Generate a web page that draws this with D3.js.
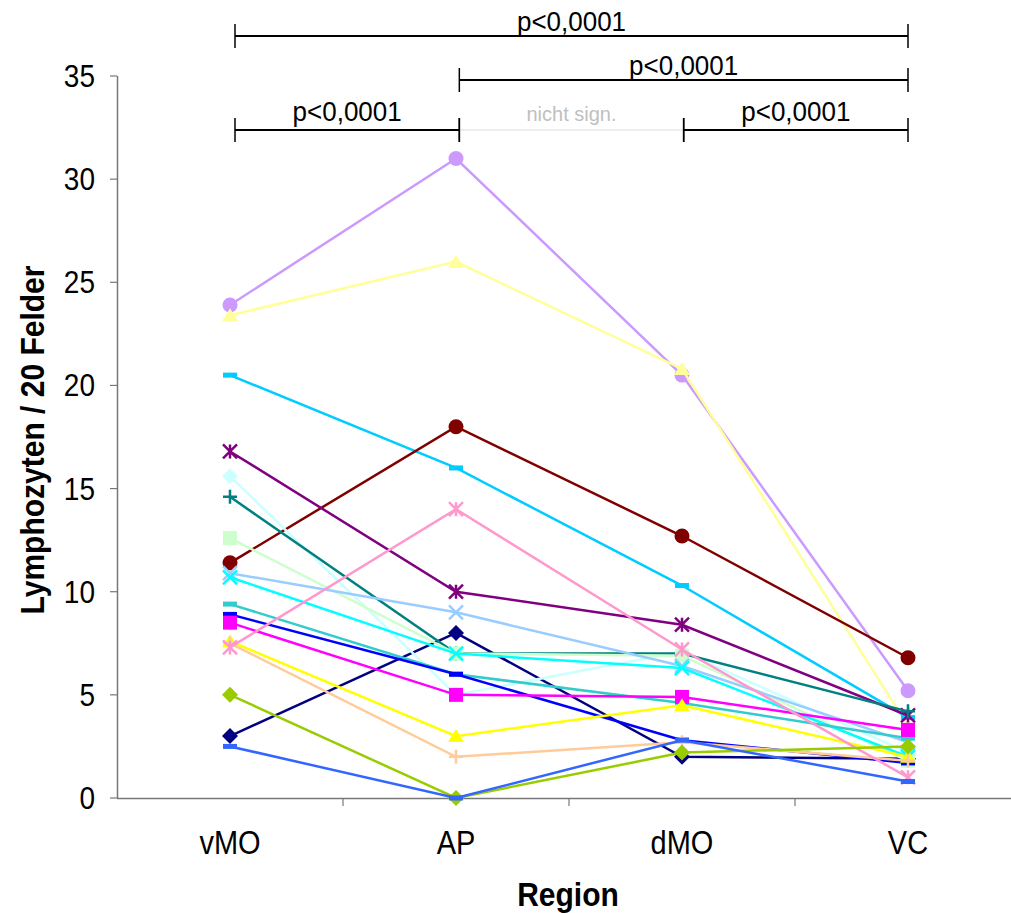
<!DOCTYPE html>
<html><head><meta charset="utf-8">
<script src="https://cdn.jsdelivr.net/npm/d3@7"></script>
<style>body{margin:0;background:#fff}svg{display:block;font-family:"Liberation Sans",Arial,sans-serif}</style>
</head><body>
<svg id="c" width="1011" height="913"></svg>
<script>
const categories = ["vMO","AP","dMO","VC"];
const yTicks = [0,5,10,15,20,25,30,35];
const seriesColors = ["#000080","#CC99FF","#FFFF99","#00CCFF","#800000","#800080","#CCFFFF","#008080","#CCFFCC","#99CCFF","#00FFFF","#33CCCC","#0000FF","#FF00FF","#FFFF00","#FFCC99","#FF99CC","#99CC00","#3366FF"];
const seriesShapes = ["diamond","circle","triangle","dash","circle","star","diamond","plus","square","x","x","dash","dash","square","triangle","plus","star","diamond","dash"];
const seriesValues = [
  [3.0, 8, 2.0, 1.9],
  [23.9, 31, 20.5, 5.2],
  [23.4, 26, 20.8, 3.5],
  [20.5, 16, 10.3, 3.9],
  [11.4, 18, 12.7, 6.8],
  [16.8, 10, 8.4, 4.0],
  [15.6, 5, 7.1, 2.2],
  [14.6, 7, 7.0, 4.2],
  [12.6, 7, 6.9, 1.8],
  [10.9, 9, 6.4, 2.7],
  [10.7, 7, 6.3, 2.0],
  [9.4, 6, 4.6, 2.9],
  [8.9, 6, 2.8, 1.7],
  [8.5, 5, 4.9, 3.3],
  [7.6, 3, 4.5, 2.0],
  [7.5, 2, 2.7, 1.8],
  [7.3, 14, 7.2, 1.0],
  [5.0, 0, 2.2, 2.5],
  [2.5, 0, 2.8, 0.8]
];
const brackets = [
  {from:"vMO", to:"VC", row:0, label:"p<0,0001", sig:true},
  {from:"AP", to:"VC", row:1, label:"p<0,0001", sig:true},
  {from:"vMO", to:"AP", row:2, label:"p<0,0001", sig:true},
  {from:"AP", to:"dMO", row:2, label:"nicht sign.", sig:false},
  {from:"dMO", to:"VC", row:2, label:"p<0,0001", sig:true}
];

const svg = d3.select("#c");
const x = d3.scaleBand().domain(categories).range([117, 1021]).padding(0);
const cx = c => x(c) + x.bandwidth()/2;
const bx = d3.scalePoint().domain(categories).range([235, 908]);
const y = d3.scaleLinear().domain([0,35]).range([798,76]);
const SY = 1.12;
function stext(px, py, str, size, anchor, opts={}){
  const t = svg.append("text").attr("transform",`translate(${px},${py}) ${opts.rot?"rotate(-90)":""} scale(1,${opts.sy||SY})`)
    .attr("text-anchor",anchor).attr("font-size",size).attr("fill",opts.fill||"#000").text(str);
  if(opts.bold) t.attr("font-weight","bold");
  return t;
}

// axes
const axisColor = "#777";
svg.append("line").attr("x1",117.5).attr("x2",117.5).attr("y1",y(35)).attr("y2",y(0)).attr("stroke",axisColor).attr("stroke-width",1.5);
svg.append("line").attr("x1",117).attr("x2",1011).attr("y1",y(0)+0.5).attr("y2",y(0)+0.5).attr("stroke",axisColor).attr("stroke-width",1.5);
yTicks.forEach(t=>{
  svg.append("line").attr("x1",110).attr("x2",117).attr("y1",y(t)).attr("y2",y(t)).attr("stroke",axisColor).attr("stroke-width",1.2);
  stext(95, y(t)+11, t, 28, "end");
});
categories.forEach((c,i)=>{
  if(i>0) svg.append("line").attr("x1",x(c)).attr("x2",x(c)).attr("y1",y(0)).attr("y2",y(0)+8).attr("stroke",axisColor).attr("stroke-width",1.2);
  stext(cx(c), 854, c, 29, "middle");
});
stext(568, 906, "Region", 30, "middle", {bold:true, sy:1.08});
stext(44, 440, "Lymphozyten / 20 Felder", 30, "middle", {bold:true, rot:true, sy:1.08});

// brackets
const rowY = [36, 80, 130];
const rowTxt = [31, 75, 121];
brackets.forEach(b=>{
  const x1 = bx(b.from), x2 = bx(b.to), yy = rowY[b.row];
  if(b.sig){
    svg.append("line").attr("x1",x1).attr("x2",x2).attr("y1",yy).attr("y2",yy).attr("stroke","#000").attr("stroke-width",2);
  } else {
    svg.append("line").attr("x1",x1).attr("x2",x2).attr("y1",yy).attr("y2",yy).attr("stroke","#bbb").attr("stroke-width",1).attr("stroke-dasharray","1,1");
  }
  [x1,x2].forEach(xx=>{
    svg.append("line").attr("x1",xx).attr("x2",xx).attr("y1",yy-12).attr("y2",yy+12).attr("stroke","#000").attr("stroke-width",1.5);
  });
  stext((x1+x2)/2, rowTxt[b.row], b.label, b.sig?26:20, "middle", {fill:b.sig?"#000":"#c0c0c0", sy:1.05});
});

// series
const line = d3.line().x((d,i)=>cx(categories[i])).y(d=>y(d));
function marker(g, shape, color, px, py){
  const s = 7;
  if(shape==="circle") g.append("circle").attr("cx",px).attr("cy",py).attr("r",s+0.5).attr("fill",color);
  else if(shape==="square") g.append("rect").attr("x",px-s).attr("y",py-s).attr("width",2*s).attr("height",2*s).attr("fill",color);
  else if(shape==="diamond") g.append("path").attr("d",`M${px},${py-s-1}L${px+s+1},${py}L${px},${py+s+1}L${px-s-1},${py}Z`).attr("fill",color);
  else if(shape==="triangle") g.append("path").attr("d",`M${px},${py-s}L${px+s+1},${py+s-1}L${px-s-1},${py+s-1}Z`).attr("fill",color);
  else if(shape==="dash") g.append("rect").attr("x",px-s).attr("y",py-2.5).attr("width",2*s).attr("height",5).attr("fill",color);
  else if(shape==="plus"){
    g.append("path").attr("d",`M${px-s},${py}H${px+s}M${px},${py-s}V${py+s}`).attr("stroke",color).attr("stroke-width",2.5).attr("fill","none");
  } else if(shape==="x"){
    g.append("path").attr("d",`M${px-s},${py-s}L${px+s},${py+s}M${px+s},${py-s}L${px-s},${py+s}`).attr("stroke",color).attr("stroke-width",2.5);
  } else if(shape==="star"){
    g.append("path").attr("d",`M${px-s},${py-s}L${px+s},${py+s}M${px+s},${py-s}L${px-s},${py+s}M${px},${py-s}V${py+s}`).attr("stroke",color).attr("stroke-width",2.5);
  }
}
seriesValues.forEach((vals,k)=>{
  const g = svg.append("g");
  g.append("path").attr("d",line(vals)).attr("fill","none").attr("stroke",seriesColors[k]).attr("stroke-width",2.5);
  vals.forEach((v,i)=>marker(g, seriesShapes[k], seriesColors[k], cx(categories[i]), y(v)));
});
</script>
</body></html>
